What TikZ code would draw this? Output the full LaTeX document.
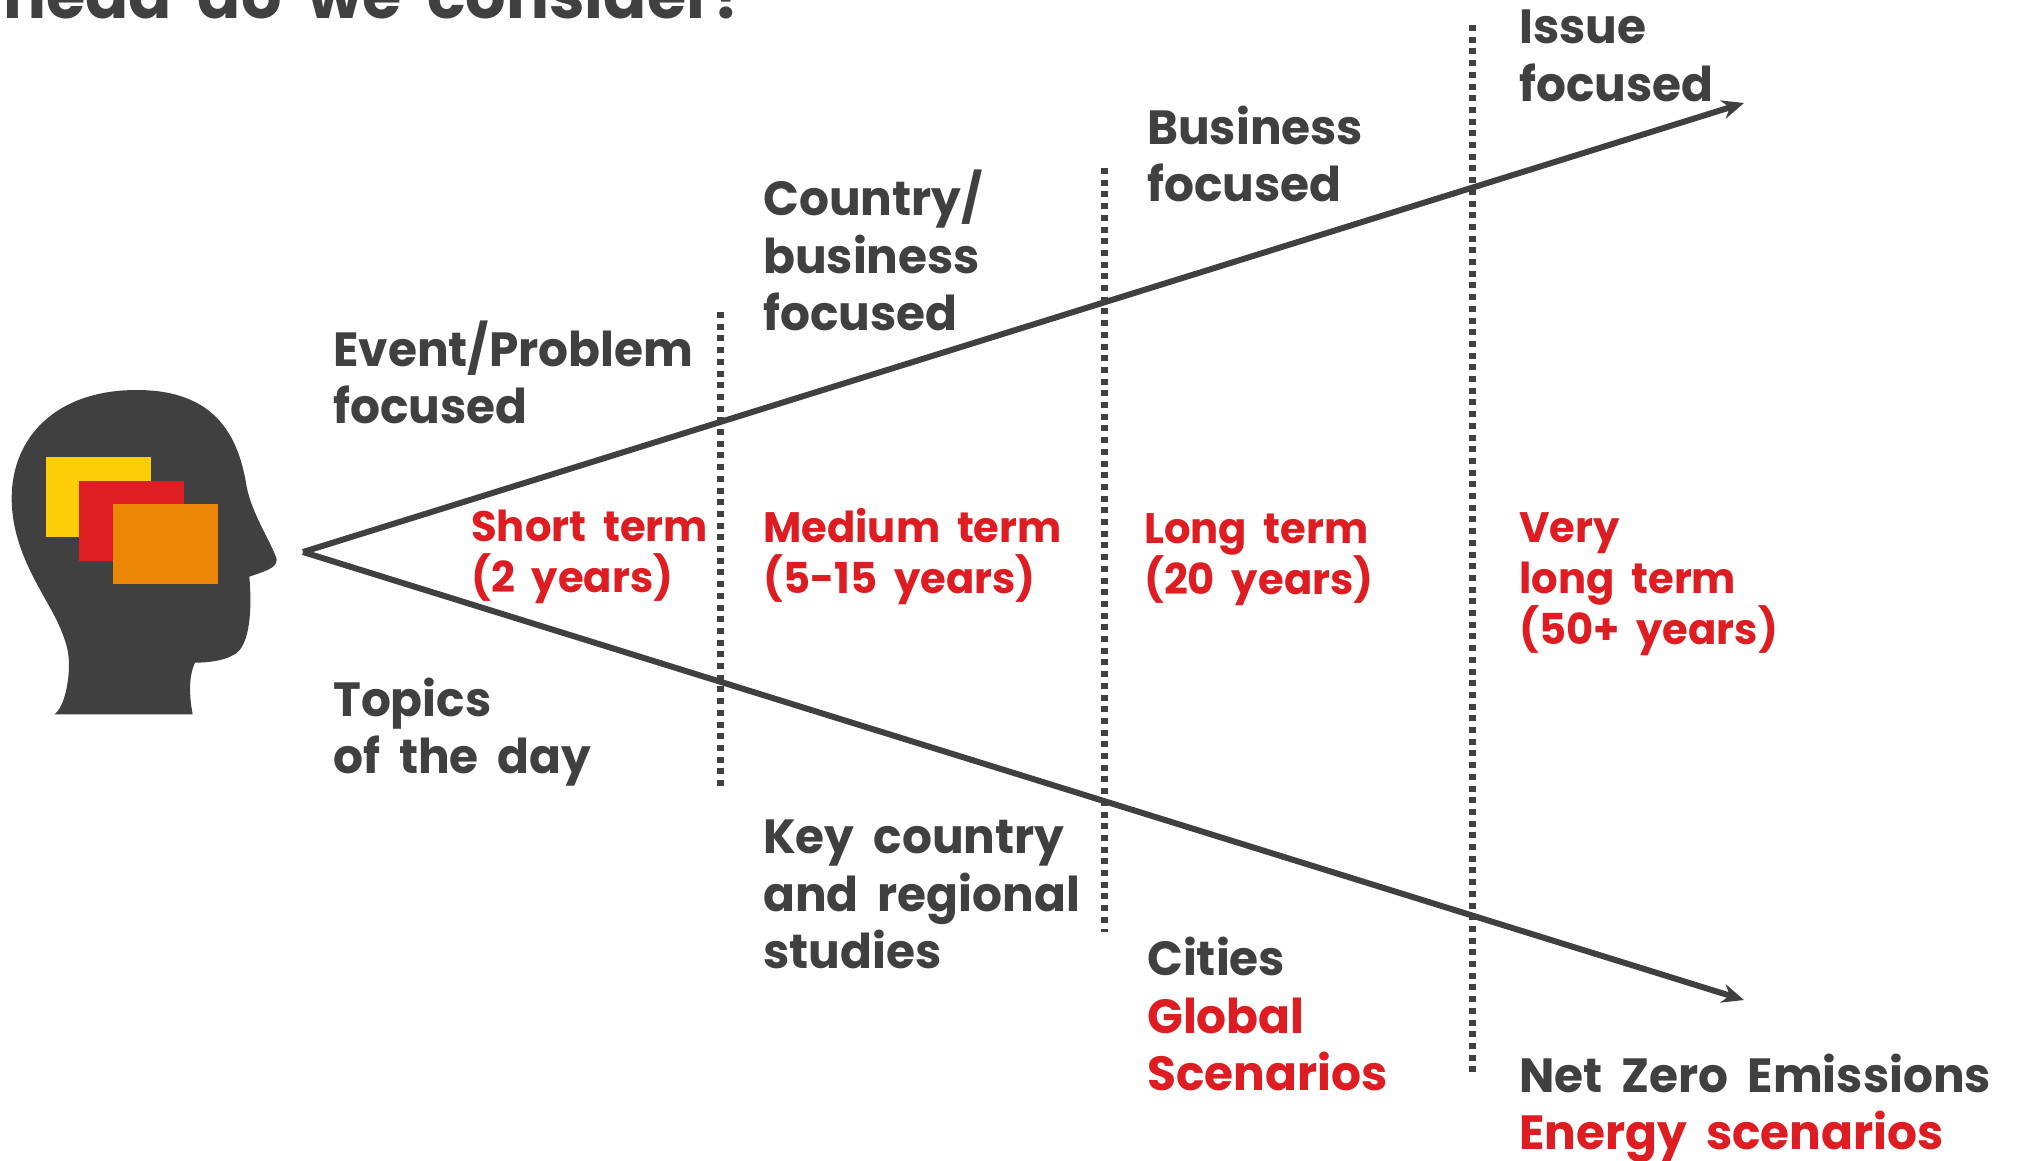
\documentclass[tikz,border=0pt]{standalone}
\usepackage{fontspec}
\setmainfont{Poppins}[BoldFont={Poppins Bold},BoldFeatures={FakeStretch=0.98,WordSpace=1.9}]
\usetikzlibrary{arrows.meta}
\definecolor{darkg}{HTML}{404040}
\definecolor{shellred}{HTML}{DD1D21}
\definecolor{shellyellow}{HTML}{FDCE08}
\definecolor{shellorange}{HTML}{EB8705}
\tikzset{
  big/.style={anchor=base west,inner sep=0pt,align=left,text=darkg,font=\fontsize{48}{57.5}\selectfont\bfseries},
  small/.style={anchor=base west,inner sep=0pt,align=left,text=shellred,font=\fontsize{42.6}{51}\selectfont\bfseries},
  ray/.style={draw=darkg,line width=6pt,-{Stealth[length=22pt,width=19pt]}},
  dots/.style={draw=darkg,line width=7pt,dash pattern=on 6pt off 5.7pt},
}
\begin{document}
\begin{tikzpicture}[x=1pt,y=-1pt]
\useasboundingbox (0,0) rectangle (2025,1160);
\clip (0,0) rectangle (2025,1160);
\node[anchor=base east,inner sep=0pt,text=darkg,font=\fontsize{65}{70}\selectfont\bfseries] (title) at (748,18) {ahead do we consider?};
% head
\begin{scope}[shift={(0,360)},x=0.33333pt,y=-0.33333pt]
\fill[darkg] (163,1063) .. controls (195,1040) and (207,960) .. (207,915)
 .. controls (207,870) and (195,840) .. (185,815)
 .. controls (150,720) and (35,590) .. (35,415)
 .. controls (35,230) and (170,90) .. (410,90)
 .. controls (640,90) and (715,220) .. (740,380)
 .. controls (755,460) and (815,550) .. (830,597)
 .. controls (833,625) and (790,635) .. (748,650)
 .. controls (755,730) and (755,860) .. (700,885)
 .. controls (670,903) and (620,908) .. (585,908)
 .. controls (565,950) and (568,1010) .. (578,1063) -- cycle;
\fill[shellyellow] (138,291) rectangle (453,530);
\fill[shellred] (237,363) rectangle (552,603);
\fill[shellorange] (339,432) rectangle (654,671);
\end{scope}
% rays
\coordinate (apex) at (303,552);
\coordinate (tipup) at (1744,103);
\coordinate (tipdown) at (1744,1000);
\draw[ray] (apex) -- (tipup);
\draw[ray] (apex) -- (tipdown);
% dotted dividers
\coordinate (d1a) at (720,312); \coordinate (d1b) at (720,787);
\coordinate (d2a) at (1104,168); \coordinate (d2b) at (1104,932);
\coordinate (d3a) at (1472,25); \coordinate (d3b) at (1472,1076);
\draw[dots] (d1a) -- (d1b);
\draw[dots] (d2a) -- (d2b);
\draw[dots] (d3a) -- (d3b);
% upper labels
\node[big] (event) at (333,423.5) {Event/Problem\\focused};
\node[big] (country) at (763,330.5) {Country/\\business\\focused};
\node[big] (business) at (1147,201.5) {Business\\focused};
\node[big] (issue) at (1519,101) {Issue\\focused};
% middle labels
\node[small] (short) at (471,592.5) {Short term\\(2 years)};
\node[small] (medium) at (763,593.5) {Medium term\\(5-15 years)};
\node[small] (long) at (1144,594) {Long term\\(20 years)};
\node[small] (vlong) at (1519,644.5) {Very\\long term\\(50+ years)};
% lower labels
\node[big] (topics) at (333,773.5) {Topics\\of the day};
\node[big] (key) at (763,968.5) {Key country\\and regional\\studies};
\node[big] (cities) at (1147,1090.5) {Cities\\\textcolor{shellred}{Global}\\\textcolor{shellred}{Scenarios}};
\node[big] (netzero) at (1519,1149.5) {Net Zero Emissions\\\textcolor{shellred}{Energy scenarios}};
\end{tikzpicture}
\end{document}
